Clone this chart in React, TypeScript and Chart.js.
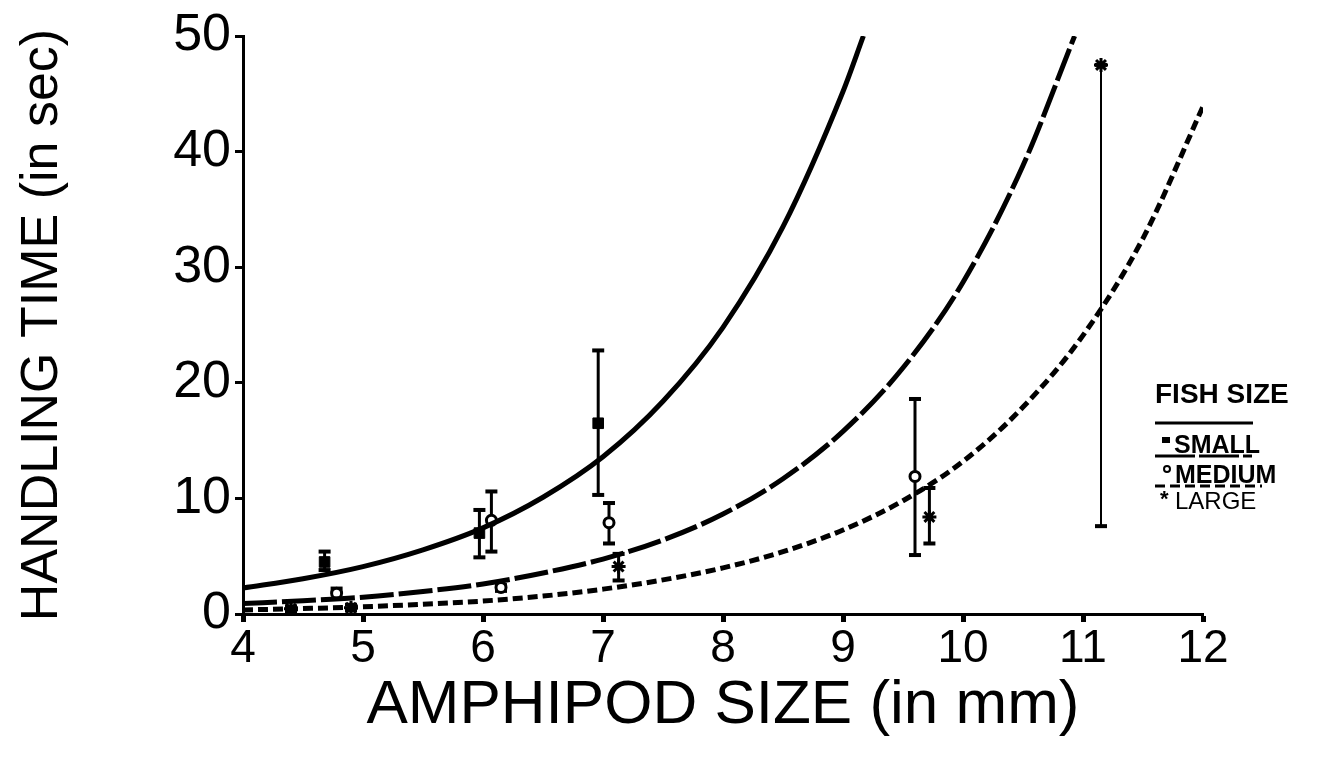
import React, { useEffect, useRef } from "react";
import { Chart, registerables } from "chart.js";

Chart.register(...registerables);

// ---- fitted curves ----
const solidX = [4, 4.5, 5, 5.5, 6, 6.5, 7, 7.5, 8, 8.5, 9, 9.17];
const solidY = [2.25, 3.05, 4.1, 5.55, 7.45, 10.1, 13.6, 18.4, 24.8, 33.5, 45.2, 50];

const longX = [4, 4.5, 5, 5.5, 6, 6.5, 7, 7.5, 8, 8.5, 9, 9.5, 10, 10.5, 10.93];
const longY = [0.9, 1.15, 1.45, 1.95, 2.6, 3.55, 4.75, 6.4, 8.65, 11.7, 15.8, 21.3, 28.7, 38.8, 50];

const shortX = [4, 4.5, 5, 5.5, 6, 6.5, 7, 7.5, 8, 8.5, 9, 9.5, 10, 10.5, 11, 11.5, 12];
const shortY = [0.35, 0.47, 0.62, 0.85, 1.12, 1.55, 2.15, 2.95, 3.99, 5.39, 7.27, 9.8, 13.2, 17.9, 24.1, 32.5, 43.9];

// ---- observed means with ranges ----
const smallX = [4.68, 5.97, 6.96];
const smallY = [4.5, 7.0, 16.5];
const smallLo = [3.8, 4.9, 10.3];
const smallHi = [5.4, 9.0, 22.8];

const mediumX = [4.78, 6.07, 6.15, 7.05, 9.6];
const mediumY = [1.8, 8.1, 2.3, 7.9, 11.9];
const mediumLo = [1.3, 5.4, 2.0, 6.1, 5.1];
const mediumHi = [2.2, 10.6, 2.5, 9.6, 18.6];

const largeX = [4.4, 4.9, 7.13, 9.72, 11.15];
const largeY = [0.45, 0.55, 4.1, 8.4, 47.5];
const largeLo = [0.25, 0.3, 2.9, 6.1, 7.6];
const largeHi = [0.65, 0.8, 5.2, 10.9, 47.5];

const xTicks = [4, 5, 6, 7, 8, 9, 10, 11, 12];
const yTicks = [0, 10, 20, 30, 40, 50];

const legendTitle = "FISH SIZE";
const legendLabels = ["SMALL", "MEDIUM", "LARGE"];

const SANS = "'Liberation Sans', Arial, sans-serif";
const NARROW = "'Liberation Sans Narrow', 'Liberation Sans', Arial, sans-serif";

const toPts = (xs: number[], ys: number[]) => xs.map((x, i) => ({ x, y: ys[i] }));

const errorBarPlugin = {
  id: "errorBars",
  beforeDatasetsDraw(chart: any) {
    const { ctx, scales } = chart;
    const xs = scales.x;
    const ys = scales.y;
    const groups = [
      [smallX, smallLo, smallHi],
      [mediumX, mediumLo, mediumHi],
      [largeX, largeLo, largeHi],
    ];
    ctx.save();
    ctx.strokeStyle = "#000";
    ctx.fillStyle = "#000";
    groups.forEach(([gx, lo, hi], gi) => {
      gx.forEach((x: number, i: number) => {
        const px = xs.getPixelForValue(x);
        const pl = ys.getPixelForValue(lo[i]);
        const ph = ys.getPixelForValue(hi[i]);
        ctx.lineWidth = gi === 2 && x > 11 ? 2 : 3;
        ctx.beginPath();
        ctx.moveTo(px, pl);
        ctx.lineTo(px, ph);
        ctx.stroke();
        if (hi[i] - lo[i] > 0.3) {
          ctx.fillRect(px - 6, ph - 2, 12, 4);
          ctx.fillRect(px - 6, pl - 2, 12, 4);
        }
      });
    });
    ctx.restore();
  },
};

const legendPlugin = {
  id: "fishLegend",
  afterDraw(chart: any) {
    const { ctx } = chart;
    ctx.save();
    ctx.fillStyle = "#000";
    ctx.strokeStyle = "#000";
    ctx.textBaseline = "alphabetic";
    ctx.textAlign = "left";
    ctx.font = `bold 28px ${SANS}`;
    ctx.fillText(legendTitle, 1155, 403);

    // solid sample
    ctx.lineWidth = 3;
    ctx.setLineDash([]);
    ctx.beginPath();
    ctx.moveTo(1155, 423);
    ctx.lineTo(1253, 423);
    ctx.stroke();

    // SMALL
    ctx.fillRect(1162, 437, 8, 6);
    ctx.font = `bold 25px ${SANS}`;
    ctx.fillText(legendLabels[0], 1174, 453);
    ctx.lineWidth = 3;
    ctx.setLineDash([40, 4]);
    ctx.beginPath();
    ctx.moveTo(1155, 456);
    ctx.lineTo(1252, 456);
    ctx.stroke();

    // MEDIUM
    ctx.setLineDash([]);
    ctx.lineWidth = 2;
    ctx.beginPath();
    ctx.arc(1167, 469, 3, 0, Math.PI * 2);
    ctx.stroke();
    ctx.font = `bold 25px ${SANS}`;
    ctx.fillText(legendLabels[1], 1175, 483);
    ctx.lineWidth = 3;
    ctx.setLineDash([10, 5]);
    ctx.beginPath();
    ctx.moveTo(1155, 486);
    ctx.lineTo(1262, 486);
    ctx.stroke();

    // LARGE
    ctx.setLineDash([]);
    ctx.font = `bold 22px ${SANS}`;
    ctx.fillText("*", 1160, 506);
    ctx.font = `24px ${SANS}`;
    ctx.fillText(legendLabels[2], 1175, 509);
    ctx.restore();
  },
};

export default function App() {
  const ref = useRef<HTMLCanvasElement | null>(null);

  useEffect(() => {
    if (!ref.current) return;
    const curveStyle = {
      showLine: true,
      pointRadius: 0,
      borderColor: "#000",
      borderWidth: 5,
      fill: false,
      cubicInterpolationMode: "monotone" as const,
    };
    const chart = new Chart(ref.current, {
      type: "scatter",
      data: {
        datasets: [
          { label: "small fit", data: toPts(solidX, solidY), ...curveStyle },
          { label: "medium fit", data: toPts(longX, longY), ...curveStyle, borderDash: [34, 5] },
          { label: "large fit", data: toPts(shortX, shortY), ...curveStyle, borderDash: [10, 5] },
          {
            label: "SMALL",
            data: toPts(smallX, smallY),
            pointStyle: "rect",
            pointRadius: 7.5,
            backgroundColor: "#000",
            borderColor: "#000",
            borderWidth: 1,
          },
          {
            label: "MEDIUM",
            data: toPts(mediumX, mediumY),
            pointStyle: "circle",
            pointRadius: 5,
            backgroundColor: "#fff",
            borderColor: "#000",
            borderWidth: 3,
          },
          {
            label: "LARGE",
            data: toPts(largeX, largeY),
            pointStyle: "star",
            pointRadius: 7,
            backgroundColor: "#000",
            borderColor: "#000",
            borderWidth: 3,
          },
        ],
      },
      options: {
        animation: false,
        responsive: false,
        devicePixelRatio: 1,
        layout: { padding: { left: 0, top: 36, right: 120, bottom: 0 } },
        plugins: {
          legend: { display: false },
          tooltip: { enabled: false },
        },
        scales: {
          x: {
            type: "linear",
            min: 4,
            max: 12,
            afterBuildTicks: (s: any) => {
              s.ticks = xTicks.map((v) => ({ value: v }));
            },
            afterFit: (s: any) => {
              s.height = 148;
            },
            ticks: {
              color: "#000",
              font: { family: NARROW, size: 46 },
              padding: 0,
            },
            grid: {
              drawOnChartArea: false,
              drawTicks: true,
              tickLength: 8,
              tickWidth: 5,
              tickColor: "#000",
            },
            border: { display: true, color: "#000", width: 3 },
            title: {
              display: true,
              text: "AMPHIPOD SIZE (in mm)",
              color: "#000",
              font: { family: SANS, size: 62 },
              padding: { top: 0, bottom: 19 },
            },
          },
          y: {
            type: "linear",
            min: 0,
            max: 50,
            afterBuildTicks: (s: any) => {
              s.ticks = yTicks.map((v) => ({ value: v }));
            },
            afterFit: (s: any) => {
              s.width = 243;
            },
            ticks: {
              color: "#000",
              font: { family: SANS, size: 52 },
              padding: 4,
            },
            grid: {
              drawOnChartArea: false,
              drawTicks: true,
              tickLength: 8,
              tickWidth: 3,
              tickColor: "#000",
            },
            border: { display: true, color: "#000", width: 3 },
            title: {
              display: true,
              text: "HANDLING TIME (in sec)",
              color: "#000",
              font: { family: SANS, size: 52 },
              padding: { top: 11, bottom: 0 },
            },
          },
        },
      },
      plugins: [errorBarPlugin, legendPlugin],
    });
    return () => chart.destroy();
  }, []);

  return (
    <div style={{ position: "fixed", left: 0, top: 0, width: 1323, height: 762, background: "#fff" }}>
      <canvas ref={ref} width={1323} height={762} style={{ display: "block" }} />
    </div>
  );
}
